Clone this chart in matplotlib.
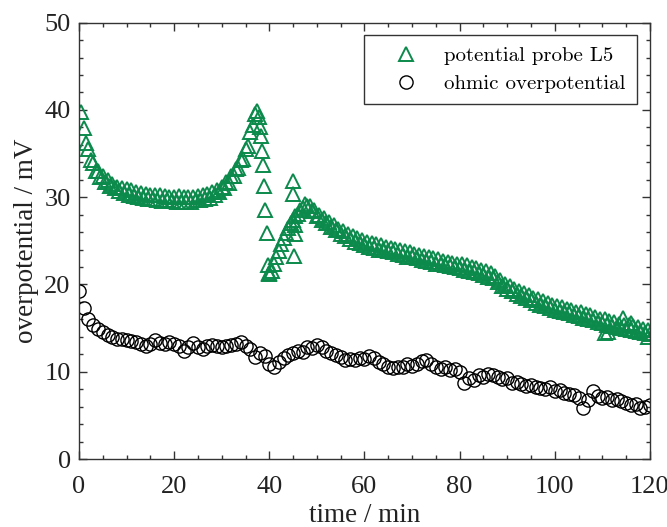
import numpy as np
import matplotlib
matplotlib.use("Agg")
import matplotlib.pyplot as plt
from matplotlib.ticker import MultipleLocator

# potential probe L5, first part (0.5 .. 37.5 min, every 0.5 min)
t_probe_a = np.arange(0.5, 37.51, 0.5)
u_probe_a = [
    39.8, 37.9, 36.2, 35.5, 34.3, 33.9, 33.0, 33.0, 32.3, 32.4,
    31.7, 32.0, 31.3, 31.5, 31.0, 31.2, 30.7, 31.1, 30.5, 30.9,
    30.3, 30.8, 30.1, 30.6, 30.0, 30.5, 29.9, 30.4, 29.8, 30.3,
    29.8, 30.3, 29.7, 30.2, 29.6, 30.1, 29.7, 30.0, 29.6, 30.0,
    29.5, 30.1, 29.5, 30.0, 29.5, 30.0, 29.5, 30.0, 29.7, 30.1,
    29.7, 30.2, 29.8, 30.4, 29.9, 30.6, 30.3, 30.8, 30.6, 31.2,
    31.0, 31.7, 31.6, 32.4, 32.4, 33.2, 33.3, 34.3, 34.4, 35.5,
    35.9, 37.5, 38.3, 39.5, 39.9,
]

# fast drop after the peak (single points)
t_probe_b = [37.8, 38.0, 38.2, 38.4, 38.6, 38.9, 39.2, 39.5, 39.7, 39.9]
u_probe_b = [39.2, 38.0, 37.0, 35.3, 33.7, 31.3, 28.5, 25.9, 22.2, 21.3]

# recovery branch
t_probe_c = np.arange(40.0, 47.51, 0.5)
u_probe_c = [21.2, 21.5, 22.3, 23.1, 23.8, 24.6, 25.3, 25.9, 26.5, 27.0,
             27.4, 27.8, 28.1, 28.5, 28.8, 29.2]

# scattered points
t_probe_d = [45.0, 45.0, 45.3, 45.5, 45.2, 110.5, 111.2, 114.3, 116.0, 119.5]
u_probe_d = [31.8, 30.4, 26.8, 25.8, 23.3, 14.4, 14.5, 16.2, 15.6, 14.0]

# slow decline (48 .. 120 min, every 0.5 min)
t_probe_e = np.arange(48.0, 120.01, 0.5)
u_probe_e = [
    29.0, 29.0, 28.4, 28.5, 27.9, 28.0, 27.4, 27.6, 27.0, 27.2,
    26.6, 26.8, 26.2, 26.4, 25.8, 26.1, 25.5, 25.8, 25.2, 25.5,
    24.9, 25.3, 24.7, 25.1, 24.5, 24.9, 24.3, 24.8, 24.2, 24.6,
    24.0, 24.5, 23.9, 24.3, 23.8, 24.2, 23.7, 24.1, 23.5, 23.9,
    23.4, 23.8, 23.2, 23.7, 23.1, 23.5, 23.0, 23.4, 22.8, 23.3,
    22.7, 23.1, 22.6, 23.0, 22.4, 22.9, 22.3, 22.7, 22.2, 22.6,
    22.1, 22.5, 22.0, 22.4, 21.9, 22.3, 21.7, 22.2, 21.6, 22.0,
    21.4, 21.9, 21.3, 21.7, 21.1, 21.5, 20.9, 21.3, 20.7, 21.0,
    20.3, 20.5, 19.8, 20.1, 19.5, 19.8, 19.2, 19.5, 18.9, 19.3,
    18.7, 19.0, 18.4, 18.8, 18.2, 18.5, 17.9, 18.3, 17.7, 18.1,
    17.5, 17.9, 17.3, 17.7, 17.1, 17.5, 17.0, 17.4, 16.8, 17.2,
    16.7, 17.1, 16.5, 16.9, 16.4, 16.8, 16.2, 16.6, 16.1, 16.5,
    15.9, 16.3, 15.7, 16.1, 15.6, 16.0, 15.4, 15.8, 15.2, 15.7,
    15.1, 15.5, 15.0, 15.4, 14.9, 15.3, 14.8, 15.2, 14.7, 15.1,
    14.6, 14.9, 14.4, 14.8, 14.3,
]

# ohmic overpotential, every minute
t_ohm = np.arange(0, 121, 1)
u_ohm = [
    19.3, 17.3, 16.1, 15.3, 14.9, 14.6, 14.2, 14.0, 13.8, 13.7,
    13.6, 13.5, 13.4, 13.2, 13.0, 13.2, 13.6, 13.3, 13.2, 13.4,
    13.2, 12.9, 12.4, 12.8, 13.3, 12.8, 12.6, 12.9, 13.1, 12.9,
    12.8, 12.9, 13.1, 13.2, 13.4, 12.9, 12.6, 11.7, 12.1, 11.8,
    10.9, 10.6, 11.1, 11.6, 11.9, 12.1, 12.4, 12.3, 12.8, 12.7,
    13.1, 12.8, 12.4, 12.2, 11.9, 11.7, 11.3, 11.5, 11.3, 11.6,
    11.5, 11.8, 11.6, 11.1, 10.9, 10.6, 10.4, 10.6, 10.5, 10.9,
    10.7, 10.9, 11.2, 11.3, 10.9, 10.5, 10.3, 10.6, 10.2, 10.3,
    10.0, 8.7, 9.3, 9.0, 9.6, 9.4, 9.7, 9.6, 9.4, 9.2,
    9.3, 8.7, 8.8, 8.6, 8.4, 8.5, 8.3, 8.1, 8.0, 8.2,
    7.8, 7.9, 7.6, 7.4, 7.3, 7.0, 5.8, 6.8, 7.8, 7.2,
    7.0, 7.1, 6.8, 6.9, 6.6, 6.4, 6.2, 6.3, 5.8, 6.0,
    6.2,
]

green = '#0b8a4c'
serif = ['Liberation Serif', 'DejaVu Serif']

fig = plt.figure(figsize=(6.67, 5.27), dpi=100)
ax = fig.add_axes([0.1184, 0.129, 0.856, 0.828])

t_probe = np.concatenate([t_probe_a, t_probe_b, t_probe_c, t_probe_d, t_probe_e])
u_probe = np.concatenate([u_probe_a, u_probe_b, u_probe_c, u_probe_d, u_probe_e])

ax.plot(t_probe, u_probe, linestyle='none', marker='^', markersize=10,
        markerfacecolor='none', markeredgecolor=green, markeredgewidth=1.4,
        label='potential probe L5')
ax.plot(t_ohm, u_ohm, linestyle='none', marker='o', markersize=9.5,
        markerfacecolor='none', markeredgecolor='black', markeredgewidth=1.0,
        label='ohmic overpotential')

ax.set_xlim(0, 120)
ax.set_ylim(0, 50)
ax.xaxis.set_major_locator(MultipleLocator(20))
ax.xaxis.set_minor_locator(MultipleLocator(5))
ax.yaxis.set_major_locator(MultipleLocator(10))
ax.yaxis.set_minor_locator(MultipleLocator(2))
ax.tick_params(which='both', direction='in', top=True, right=True,
               colors='#333333', labelcolor='#222222', width=1.0)
ax.tick_params(which='major', length=6, labelsize=19)
ax.tick_params(which='minor', length=3)
ax.tick_params(axis='x', which='major', pad=12)
ax.tick_params(axis='y', which='major', pad=6)
for lab in ax.get_xticklabels() + ax.get_yticklabels():
    lab.set_family(serif)
for sp in ax.spines.values():
    sp.set_color('#333333')
    sp.set_linewidth(1.0)

ax.set_xlabel('time / min', fontsize=19.5, family=serif, color='#222222', labelpad=4)
ax.set_ylabel('overpotential / mV', fontsize=19.5, family=serif, color='#222222', labelpad=4)

leg = ax.legend(loc='upper right', bbox_to_anchor=(0.977, 0.972), borderaxespad=0,
                prop={'family': ['cmr10', 'DejaVu Serif'], 'size': 15},
                fancybox=False, framealpha=1, edgecolor='#333333',
                handletextpad=0.3, borderpad=0.55, labelspacing=0.45,
                handlelength=3.0)
leg.get_frame().set_linewidth(1.0)

fig.savefig('out.png', dpi=100)
